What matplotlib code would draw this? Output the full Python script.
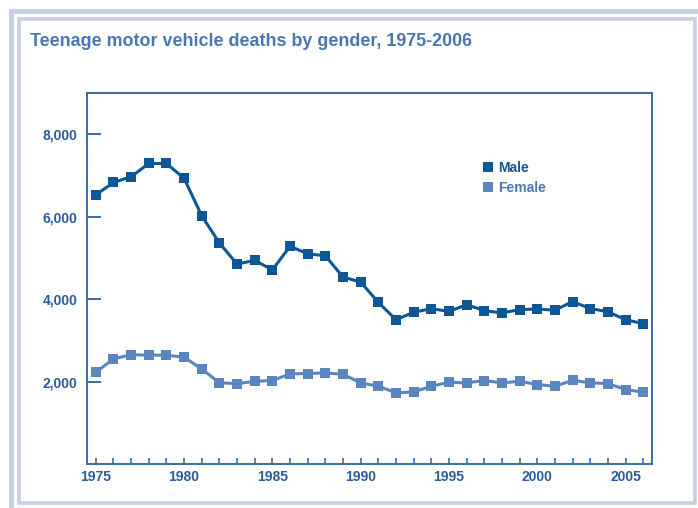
import matplotlib
matplotlib.use("Agg")
import matplotlib.pyplot as plt
from matplotlib.lines import Line2D
from matplotlib.patches import Rectangle

years = list(range(1975, 2007))
male = [6530, 6830, 6970, 7290, 7290, 6930, 6020, 5360, 4850, 4940, 4710, 5280,
        5100, 5050, 4535, 4414, 3920, 3500, 3680, 3770, 3700, 3865, 3720, 3665,
        3745, 3760, 3730, 3940, 3770, 3695, 3500, 3405]
female = [2225, 2550, 2650, 2640, 2640, 2590, 2305, 1970, 1950, 2005, 2025, 2185,
          2195, 2210, 2175, 1968, 1886, 1726, 1750, 1886, 1983, 1968, 2024, 1968,
          2007, 1927, 1886, 2031, 1968, 1952, 1806, 1741]
series_names = ["Male", "Female"]
yticks = [2000, 4000, 6000, 8000]
ytick_labels = ["2,000", "4,000", "6,000", "8,000"]
xticks = [1975, 1980, 1985, 1990, 1995, 2000, 2005]
title = "Teenage motor vehicle deaths by gender, 1975-2006"

MALE_C = "#0d5797"
FEMALE_C = "#5a86c0"
AX_C = "#3a6ca8"
TXT_C = "#2c5b9b"
FRAME_C = "#c6cfe6"

plt.rcParams['font.family'] = ['Liberation Sans', 'DejaVu Sans']

fig = plt.figure(figsize=(6.98, 5.08), dpi=100)
fig.patch.set_facecolor("white")

W, H = 698, 508
def fx(px): return px / W
def fy(py): return 1 - py / H

# decorative frames
fig.patches.append(Rectangle((fx(10.5), fy(530)), fx(720) - fx(10.5), fy(10.5) - fy(530),
                             transform=fig.transFigure, fill=False, edgecolor=FRAME_C,
                             linewidth=3.6, zorder=0))
fig.patches.append(Rectangle((fx(18.5), fy(502.5)), fx(694.5) - fx(18.5), fy(18.5) - fy(502.5),
                             transform=fig.transFigure, fill=False, edgecolor=FRAME_C,
                             linewidth=2.6, zorder=0))

fig.text(fx(30), fy(42), title, color="#4a76b2", fontsize=12.9, fontweight="bold",
         ha="left", va="center")

ax = fig.add_axes([fx(87), fy(464), fx(652) - fx(87), fy(93) - fy(464)])
ax.plot(years, male, color=MALE_C, lw=2.2, marker="s", markersize=6.5,
        markeredgewidth=0, label=series_names[0])
ax.plot(years, female, color=FEMALE_C, lw=2.2, marker="s", markersize=6.5,
        markeredgewidth=0, label=series_names[1])

ax.set_xlim(1974.5, 2006.5)
ax.set_ylim(0, 9000)
for s in ax.spines.values():
    s.set_color(AX_C)
    s.set_linewidth(1.4)

ax.set_yticks(yticks)
ax.set_yticklabels(ytick_labels)
ax.set_xticks(xticks)
ax.set_xticks(years, minor=True)
ax.tick_params(axis="y", direction="in", length=10, width=1.4, color=AX_C,
               labelcolor=TXT_C, labelsize=10, pad=7)
ax.tick_params(axis="x", which="both", direction="in", length=4, width=1.2, color=AX_C,
               labelcolor=TXT_C, labelsize=10, pad=4)
for lab in ax.get_xticklabels() + ax.get_yticklabels():
    lab.set_fontweight("bold")

handles = [Line2D([], [], color=MALE_C, marker="s", linestyle="none", markersize=6.5, markeredgewidth=0),
           Line2D([], [], color=FEMALE_C, marker="s", linestyle="none", markersize=6.5, markeredgewidth=0)]
leg = ax.legend(handles, series_names, loc="upper left", bbox_to_anchor=(0.69, 0.835),
                frameon=False, handlelength=0.6, handletextpad=0.4, labelspacing=0.42,
                borderpad=0, fontsize=10)
for t, c in zip(leg.get_texts(), [MALE_C, "#4a78b4"]):
    t.set_color(c)
    t.set_fontweight("bold")

fig.savefig("out.png", dpi=100)
